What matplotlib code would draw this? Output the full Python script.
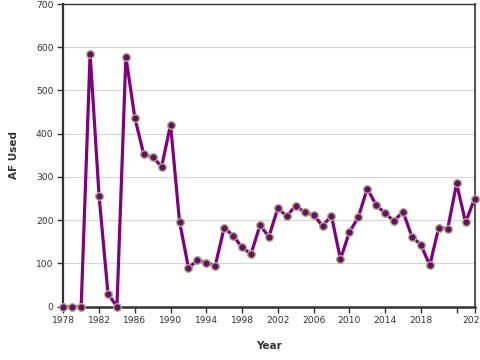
import matplotlib
matplotlib.use("Agg")
import matplotlib.pyplot as plt

years = list(range(1978, 2025))
af_used = [0, 0, 0, 585, 257, 30, 0, 578, 437, 352, 346, 324, 421, 197, 90, 107,
           102, 95, 183, 164, 137, 122, 188, 162, 228, 209, 234, 218, 212, 187,
           210, 110, 172, 207, 273, 235, 216, 198, 220, 162, 143, 96, 183, 180,
           285, 195, 249]
xticks = [1978, 1982, 1986, 1990, 1994, 1998, 2002, 2006, 2010, 2014, 2018, 2022, 2024]
xticklabels = ["1978", "1982", "1986", "1990", "1994", "1998", "2002", "2006",
               "2010", "2014", "2018", "", "2024"]
yticks = [0, 100, 200, 300, 400, 500, 600, 700]

plt.rcParams['font.family'] = ['DejaVu Sans']
fig = plt.figure(figsize=(4.8, 3.6), dpi=100)
ax = fig.add_axes([63.3 / 480, 1 - 306.7 / 360, (474.5 - 63.3) / 480, (306.7 - 4) / 360])

ax.plot(years, af_used, color="#800080", linewidth=2.3, zorder=3,
        marker="o", markersize=5.5, markerfacecolor="#5e1461",
        markeredgecolor="#bba888", markeredgewidth=1.0, clip_on=False)

ax.set_xlim(1978, 2024)
ax.set_ylim(0, 700)
ax.set_xticks(xticks)
ax.set_xticklabels(xticklabels)
ax.set_yticks(yticks)
ax.yaxis.grid(True, color="#d6d6d6", linewidth=0.8)
ax.set_axisbelow(True)

for side in ["left", "bottom", "top", "right"]:
    ax.spines[side].set_color("#333333")
ax.spines["left"].set_linewidth(1.6)
ax.spines["bottom"].set_linewidth(1.8)
ax.spines["top"].set_linewidth(1.0)
ax.spines["right"].set_linewidth(1.2)

ax.tick_params(axis="both", direction="out", length=4.5, width=1.0,
               color="#333333", labelsize=6.6, labelcolor="#333333", pad=2.5)

ax.set_xlabel("Year", fontsize=7.5, fontweight="bold", color="#333333", labelpad=11)
ax.set_ylabel("AF Used", fontsize=7.5, fontweight="bold", color="#333333", labelpad=12)

fig.savefig("out.png", dpi=100)
